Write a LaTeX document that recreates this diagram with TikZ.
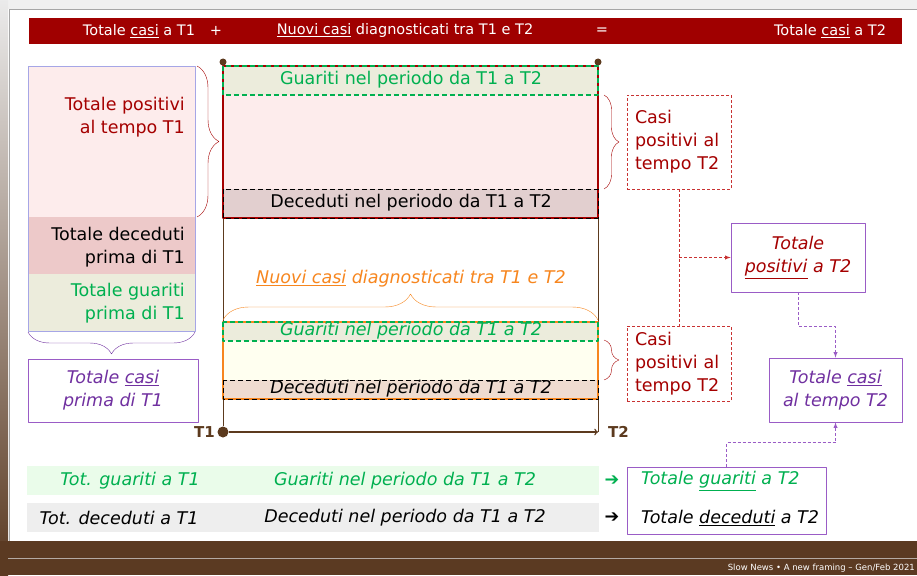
\documentclass[tikz,border=0pt]{standalone}
\usepackage{fontspec}
\setmainfont{DejaVu Sans}
\usepackage{tikz}
\usetikzlibrary{arrows,decorations.pathreplacing,calc}

\definecolor{barred}{HTML}{A00000}
\definecolor{darkred}{HTML}{A50000}
\definecolor{dashred}{HTML}{C83232}
\definecolor{casegreen}{HTML}{00B050}
\definecolor{casepurple}{HTML}{7030A0}
\definecolor{boxpurple}{HTML}{9A5CC6}
\definecolor{caseorange}{HTML}{F7861E}
\definecolor{axisbrown}{HTML}{5C3A1E}
\definecolor{pinkfill}{HTML}{FDECEC}
\definecolor{deadfill}{HTML}{EDC9C9}
\definecolor{healfill}{HTML}{ECECDC}
\definecolor{deadmain}{HTML}{E2CFCF}
\definecolor{newfill}{HTML}{FFFFF0}
\definecolor{deadnew}{HTML}{EFDCD0}
\definecolor{greenband}{HTML}{EAFCEA}
\definecolor{greyband}{HTML}{EEEEEE}
\definecolor{lavender}{HTML}{A6A6E6}
\definecolor{slidebrown}{HTML}{5B3A22}

\begin{document}
\begin{tikzpicture}[x=1pt,y=-1pt,join=round,
    txt/.style={inner sep=0pt,font=\fontsize{17.5}{23}\selectfont},
    itxt/.style={inner sep=0pt,font=\fontsize{17.5}{23}\selectfont\itshape},
    bartxt/.style={inner sep=0pt,text=white,font=\fontsize{14.5}{17}\selectfont},
    brc/.style={decorate,decoration={brace,amplitude=#1}},
    sumbox/.style={draw=boxpurple,line width=0.8pt,align=center},
    posbox/.style={draw=dashred,dash pattern=on 3pt off 2pt,line width=0.9pt,
      inner xsep=8pt,text width=88pt,align=left,minimum height=#1},
    dot/.style={circle,fill=axisbrown,inner sep=0pt,minimum size=#1}]
\useasboundingbox (0,0) rectangle (917,575);
% slide frame
\fill[white] (0,0) rectangle (917,575);
\fill[black!6] (0,0) rectangle (917,9);
\shade[top color=black!8,bottom color=slidebrown] (0,0) rectangle (8,575);
\fill[slidebrown] (0,541) rectangle (917,575);
\draw[black!35] (917,9) -- (9,9) -- (9,541);
\draw[black!25!slidebrown!40!white] (8,558) -- (917,558);
\node[anchor=east,text=white,inner sep=0pt,font=\fontsize{8.5}{10}\selectfont] (footer) at (915,568) {Slow News • A new framing – Gen/Feb 2021};

% equation bar
\fill[barred] (29,18) rectangle (902,44);
\node[bartxt] (sumA) at (139,31) {Totale \underline{casi} a T1};
\node[bartxt] (plus) at (216,31) {+};
\node[bartxt] (sumB) at (405,31) {\underline{Nuovi casi} diagnosticati tra T1 e T2};
\node[bartxt] (equal) at (602,31) {=};
\node[bartxt] (sumC) at (830,31) {Totale \underline{casi} a T2};

% cases before T1
\fill[pinkfill] (28,66) rectangle (195,217);
\fill[deadfill] (28,217) rectangle (195,274);
\fill[healfill] (28,274) rectangle (195,331);
\draw[lavender] (28,66) rectangle (195,331);
\node[txt,anchor=east,align=right,text=darkred] (posT1) at (185,117) {Totale positivi\\al tempo T1};
\node[txt,anchor=east,align=right] (deadT1) at (185,247) {Totale deceduti\\prima di T1};
\node[txt,anchor=east,align=right,text=casegreen] (healT1) at (185,303) {Totale guariti\\prima di T1};
\draw[darkred,brc=22pt] (197,66) -- (197,217);
\draw[casepurple,brc=22pt] (195,332) -- (28,332);
\node[itxt,sumbox,minimum width=170,minimum height=63,text=casepurple] (casiT1) at (113,390.5) {Totale \underline{casi}\\prima di T1};

% time line
\node[dot=7] (topA) at (223,62) {};
\node[dot=7] (topB) at (598,62) {};
\node[dot=11] (t1) at (223,432) {};
\coordinate (t2) at (598,432);
\draw[axisbrown,line width=1pt] (topA) -- (t1) (topB) -- (t2);

% positives at T1
\fill[pinkfill] (223,66) rectangle (598,218);
\fill[healfill] (223,66) rectangle (598,95);
\fill[deadmain] (223,189) rectangle (598,218);
\draw[darkred,line width=1.2pt] (223,66) rectangle (598,218);
\draw[casegreen,dash pattern=on 5pt off 3pt,line width=1.2pt] (223,66) rectangle (598,95);
\draw[black,dash pattern=on 5pt off 3pt,line width=1pt] (223,189) rectangle (598,218);
\node[txt,text=casegreen] (healA) at (411,80) {Guariti nel periodo da T1 a T2};
\node[txt] (deadA) at (411,203) {Deceduti nel periodo da T1 a T2};

% new cases
\fill[newfill] (223,322) rectangle (598,399);
\fill[healfill] (223,322) rectangle (598,341);
\fill[deadnew] (223,380) rectangle (598,399);
\draw[caseorange,line width=1.2pt] (223,322) rectangle (598,399);
\draw[casegreen,dash pattern=on 5pt off 3pt,line width=1.2pt] (223,322) rectangle (598,341);
\draw[black,dash pattern=on 5pt off 3pt,line width=1pt] (223,380) rectangle (598,399);
\node[itxt,text=casegreen] (healB) at (411,331) {Guariti nel periodo da T1 a T2};
\node[itxt] (deadB) at (411,389) {Deceduti nel periodo da T1 a T2};
\draw[caseorange,brc=26pt] (223,320) -- (598,320);
\node[itxt,text=caseorange] (newcases) at (411,279) {\underline{Nuovi casi} diagnosticati tra T1 e T2};

\draw[axisbrown,line width=1.4pt,->] (t1) -- (t2);
\node[txt,anchor=east,text=axisbrown,font=\fontsize{15}{18}\selectfont\bfseries] (t1lbl) at (215,432) {T1};
\node[txt,anchor=west,text=axisbrown,font=\fontsize{15}{18}\selectfont\bfseries] (t2lbl) at (608,432) {T2};

% positives at T2
\node[txt,posbox=94,text=darkred] (posA) at (679,142) {Casi\\positivi al\\tempo T2};
\node[txt,posbox=75,text=darkred] (posB) at (679,363.5) {Casi\\positivi al\\tempo T2};
\draw[darkred,brc=15pt] (604,95) -- (604,189);
\draw[darkred,brc=15pt] (604,340) -- (604,380);
\draw[dashred,line width=0.9pt,dash pattern=on 3pt off 2pt] (posA.south) -- (posB.north);
\node[itxt,sumbox,minimum width=134,minimum height=69,text=darkred] (posT2) at (798,257.5) {Totale\\\underline{positivi} a T2};
\draw[dashred,line width=0.9pt,dash pattern=on 3pt off 2pt,-latex] (posA.south |- posT2.west) -- (posT2.west);
\node[itxt,sumbox,minimum width=133,minimum height=64,text=casepurple] (casiT2) at (835.5,390) {Totale \underline{casi}\\al tempo T2};
\draw[boxpurple,line width=0.9pt,dash pattern=on 3pt off 2pt,-latex] (posT2.south) -- ++(0,34) -| (casiT2.north);

% recovered and deceased
\fill[greenband] (27,466) rectangle (599,495);
\fill[greyband] (27,503) rectangle (599,532);
\node[itxt,text=casegreen] (healT1b) at (130,481) {Tot. guariti a T1};
\node[itxt,text=casegreen] (healP) at (405,481) {Guariti nel periodo da T1 a T2};
\node[itxt] (deadT1b) at (119,518) {Tot. deceduti a T1};
\node[itxt] (deadP) at (405,518) {Deceduti nel periodo da T1 a T2};
\node[sumbox,minimum width=199,minimum height=67] (totT2) at (726.5,500.5) {};
\node[itxt,anchor=west,text=casegreen] (healT2) at (641,481) {Totale \underline{guariti} a T2};
\node[itxt,anchor=west] (deadT2) at (641,518) {Totale \underline{deceduti} a T2};
\node[txt,text=casegreen] (arrA) at (612,481) {➔};
\node[txt] (arrB) at (612,518) {➔};
\draw[boxpurple,line width=0.9pt,dash pattern=on 3pt off 2pt,-latex] (totT2.north) -- ++(0,-24) -| (casiT2.south);
\end{tikzpicture}
\end{document}
